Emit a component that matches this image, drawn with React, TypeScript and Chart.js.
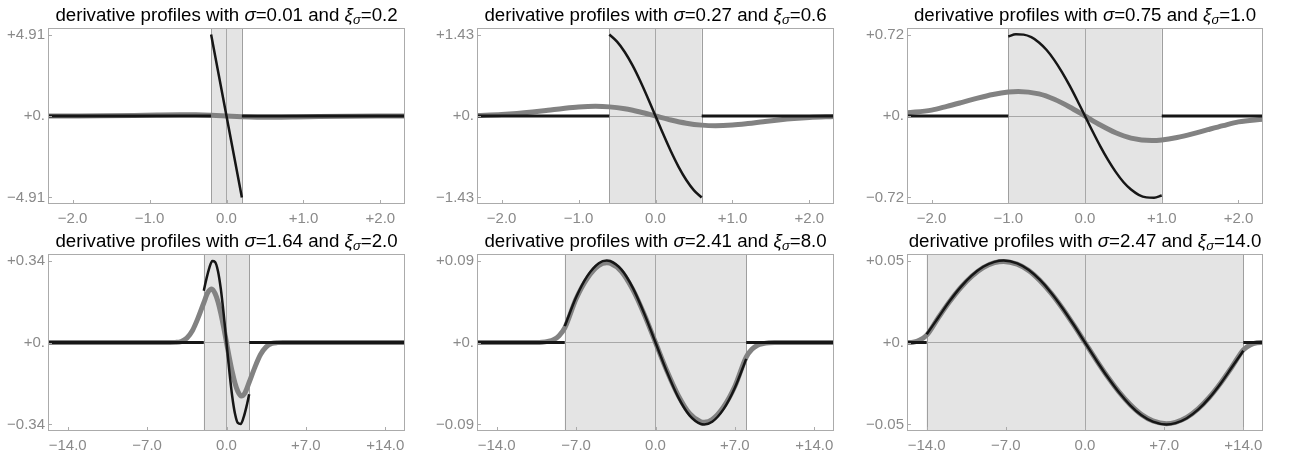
import React, { useEffect, useRef } from 'react';
import { Chart, registerables } from 'chart.js';

Chart.register(...registerables);

// ---------- labels / parameters ----------
const SIGMA_LABELS = ['0.01', '0.27', '0.75', '1.64', '2.41', '2.47'];
const XI_LABELS = ['0.2', '0.6', '1.0', '2.0', '8.0', '14.0'];
const XI_VALUES = [0.2, 0.6, 1.0, 2.0, 8.0, 14.0];
const Y_MAX = [4.91, 1.43, 0.72, 0.34, 0.09, 0.05];
const Y_TICK_LABELS = [
  ['\u22124.91', '+0.', '+4.91'],
  ['\u22121.43', '+0.', '+1.43'],
  ['\u22120.72', '+0.', '+0.72'],
  ['\u22120.34', '+0.', '+0.34'],
  ['\u22120.09', '+0.', '+0.09'],
  ['\u22120.05', '+0.', '+0.05'],
];
const X_HALF_RANGE = [2.32, 2.32, 2.32, 15.74, 15.74, 15.74];
const X_TICKS_TOP = [-2, -1, 0, 1, 2];
const X_TICK_LABELS_TOP = ['\u22122.0', '\u22121.0', '0.0', '+1.0', '+2.0'];
const X_TICKS_BOTTOM = [-14, -7, 0, 7, 14];
const X_TICK_LABELS_BOTTOM = ['\u221214.0', '\u22127.0', '0.0', '+7.0', '+14.0'];

// ---------- panel 1 ----------
const P1_IN_X = [-0.2, -0.1, 0, 0.1, 0.2];
const P1_IN_Y = [4.91, 2.455, 0, -2.455, -4.91];
const P1_OUT_X = [-2.32, -0.2, 0, 0.2, 2.32];
const P1_OUT_Y = [0, 0, null, 0, 0];
const P1_GRAY_X = [-2.32, -2.0, -1.6, -1.2, -0.9, -0.6, -0.4, -0.2, 0, 0.2, 0.4, 0.6, 0.9, 1.2, 1.6, 2.0, 2.32];
const P1_GRAY_Y = [0, 0.002, 0.01, 0.036, 0.064, 0.08, 0.07, 0.042, 0, -0.042, -0.07, -0.08, -0.064, -0.036, -0.01, -0.002, 0];

// ---------- panel 2 ----------
const P2_IN_X = [-0.6, -0.5, -0.4, -0.3, -0.2, -0.1, 0, 0.1, 0.2, 0.3, 0.4, 0.5, 0.6];
const P2_IN_Y = [1.43, 1.305, 1.124, 0.893, 0.62, 0.318, 0, -0.318, -0.62, -0.893, -1.124, -1.305, -1.43];
const P2_OUT_X = [-2.32, -0.6, 0, 0.6, 2.32];
const P2_OUT_Y = [0, 0, null, 0, 0];
const P2_GRAY_X = [-2.32, -2.0, -1.8, -1.6, -1.4, -1.2, -1.0, -0.78, -0.6, -0.4, -0.2, 0, 0.2, 0.4, 0.6, 0.78, 1.0, 1.2, 1.4, 1.6, 1.8, 2.0, 2.32];
const P2_GRAY_Y = [0.01, 0.027, 0.045, 0.07, 0.1, 0.132, 0.158, 0.17, 0.16, 0.126, 0.07, 0, -0.07, -0.126, -0.16, -0.17, -0.158, -0.132, -0.1, -0.07, -0.045, -0.027, -0.01];

// ---------- panel 3 ----------
const P3_IN_X = [-1, -0.9, -0.8, -0.7, -0.6, -0.5, -0.4, -0.3, -0.2, -0.1, 0, 0.1, 0.2, 0.3, 0.4, 0.5, 0.6, 0.7, 0.8, 0.9, 1];
const P3_IN_Y = [0.703, 0.722, 0.719, 0.696, 0.65, 0.583, 0.494, 0.388, 0.268, 0.137, 0, -0.137, -0.268, -0.388, -0.494, -0.583, -0.65, -0.696, -0.719, -0.722, -0.703];
const P3_OUT_X = [-2.32, -1.0, 0, 1.0, 2.32];
const P3_OUT_Y = [0, 0, null, 0, 0];
const P3_GRAY_X = [-2.32, -2.0, -1.8, -1.6, -1.4, -1.2, -1.0, -0.87, -0.6, -0.4, -0.2, 0, 0.2, 0.4, 0.6, 0.87, 1.0, 1.2, 1.4, 1.6, 1.8, 2.0, 2.32];
const P3_GRAY_Y = [0.028, 0.052, 0.085, 0.121, 0.158, 0.19, 0.212, 0.217, 0.195, 0.148, 0.08, 0, -0.08, -0.148, -0.195, -0.217, -0.212, -0.19, -0.158, -0.121, -0.085, -0.052, -0.028];

// ---------- panel 4 ----------
const P4_IN_X = [-2, -1.75, -1.5, -1.25, -1, -0.75, -0.5, -0.25, 0, 0.25, 0.5, 0.75, 1, 1.25, 1.5, 1.75, 2];
const P4_IN_Y = [0.215, 0.268, 0.312, 0.338, 0.334, 0.296, 0.222, 0.119, 0, -0.119, -0.222, -0.296, -0.334, -0.338, -0.312, -0.268, -0.215];
const P4_OUT_X = [-15.74, -2, 0, 2, 15.74];
const P4_OUT_Y = [0, 0, null, 0, 0];
const P4_GRAY_X = [-15.74, -5, -4.5, -4, -3.5, -3, -2.5, -2, -1.65, -1.3, -1, -0.75, -0.5, -0.25, 0, 0.25, 0.5, 0.75, 1, 1.3, 1.65, 2, 2.5, 3, 3.5, 4, 4.5, 5, 15.74];
const P4_GRAY_Y = [0, 0, 0.0005, 0.004, 0.018, 0.05, 0.103, 0.165, 0.207, 0.222, 0.203, 0.169, 0.121, 0.063, 0, -0.063, -0.121, -0.169, -0.203, -0.222, -0.207, -0.165, -0.103, -0.05, -0.018, -0.004, -0.0005, 0, 0];

// ---------- panel 5 ----------
const P5_IN_X = [-8, -7, -6, -5, -4.3, -4, -3, -2, -1, 0, 1, 2, 3, 4, 4.3, 5, 6, 7, 8];
const P5_IN_Y = [0.018, 0.0497, 0.0732, 0.0871, 0.09, 0.0895, 0.08, 0.06, 0.032, 0, -0.032, -0.06, -0.08, -0.0895, -0.09, -0.0871, -0.0732, -0.0497, -0.018];
const P5_OUT_X = [-15.74, -8, 0, 8, 15.74];
const P5_OUT_Y = [0, 0, null, 0, 0];
const P5_GRAY_X = [-15.74, -10.5, -10, -9.5, -9, -8.5, -8, -7, -6, -5, -4.3, -4, -3, -2, -1, 0, 1, 2, 3, 4, 4.3, 5, 6, 7, 8, 8.5, 9, 9.5, 10, 10.5, 15.74];
const P5_GRAY_Y = [0, 0, 0.0003, 0.0012, 0.003, 0.0075, 0.016, 0.048, 0.0707, 0.0845, 0.0875, 0.087, 0.0778, 0.058, 0.031, 0, -0.031, -0.058, -0.0778, -0.087, -0.0875, -0.0845, -0.0707, -0.048, -0.016, -0.0075, -0.003, -0.0012, -0.0003, 0, 0];

// ---------- panel 6 ----------
const P6_IN_X = [-14, -13, -12, -11, -10, -9, -8, -7.2, -6, -5, -4, -3, -2, -1, 0, 1, 2, 3, 4, 5, 6, 7.2, 8, 9, 10, 11, 12, 13, 14];
const P6_IN_Y = [0.005, 0.015, 0.025, 0.0338, 0.041, 0.0462, 0.0492, 0.05, 0.0483, 0.0444, 0.0383, 0.0304, 0.0211, 0.0108, 0, -0.0108, -0.0211, -0.0304, -0.0383, -0.0444, -0.0483, -0.05, -0.0492, -0.0462, -0.041, -0.0338, -0.025, -0.015, -0.005];
const P6_OUT_X = [-15.74, -14, 0, 14, 15.74];
const P6_OUT_Y = [0, 0, null, 0, 0];
const P6_GRAY_X = [-15.74, -15.2, -14.6, -14, -13, -12, -11, -10, -9, -8, -7.2, -6, -5, -4, -3, -2, -1, 0, 1, 2, 3, 4, 5, 6, 7.2, 8, 9, 10, 11, 12, 13, 14, 14.6, 15.2, 15.74];
const P6_GRAY_Y = [0, 0.0002, 0.0015, 0.0045, 0.0148, 0.0247, 0.0334, 0.0405, 0.0457, 0.0487, 0.0495, 0.0478, 0.044, 0.0379, 0.0301, 0.0209, 0.0107, 0, -0.0107, -0.0209, -0.0301, -0.0379, -0.044, -0.0478, -0.0495, -0.0487, -0.0457, -0.0405, -0.0334, -0.0247, -0.0148, -0.0045, -0.0015, -0.0002, 0];

const PANELS = [
  { inX: P1_IN_X, inY: P1_IN_Y, outX: P1_OUT_X, outY: P1_OUT_Y, grayX: P1_GRAY_X, grayY: P1_GRAY_Y },
  { inX: P2_IN_X, inY: P2_IN_Y, outX: P2_OUT_X, outY: P2_OUT_Y, grayX: P2_GRAY_X, grayY: P2_GRAY_Y },
  { inX: P3_IN_X, inY: P3_IN_Y, outX: P3_OUT_X, outY: P3_OUT_Y, grayX: P3_GRAY_X, grayY: P3_GRAY_Y },
  { inX: P4_IN_X, inY: P4_IN_Y, outX: P4_OUT_X, outY: P4_OUT_Y, grayX: P4_GRAY_X, grayY: P4_GRAY_Y },
  { inX: P5_IN_X, inY: P5_IN_Y, outX: P5_OUT_X, outY: P5_OUT_Y, grayX: P5_GRAY_X, grayY: P5_GRAY_Y },
  { inX: P6_IN_X, inY: P6_IN_Y, outX: P6_OUT_X, outY: P6_OUT_Y, grayX: P6_GRAY_X, grayY: P6_GRAY_Y },
];

// ---------- layout / style ----------
const FONT = '"Liberation Sans", Arial, Helvetica, sans-serif';
const FRAME_LEFT = [48, 477, 907];
const FRAME_W = [357, 357, 356];
const ROW_TOP = [0, 226];
const ROW_H = [226, 229];
const AXIS_H = [22, 24];
const PAD_TOP = 28;
const Y_AXIS_W = 48;
const RIGHT_PAD = 20;

const TICK_COLOR = '#8a8a8a';
const FRAME_COLOR = '#ababab';
const ZERO_COLOR = '#a8a8a8';
const BAND_FILL = '#e4e4e4';
const BAND_EDGE = '#9f9f9f';
const BLACK = '#161616';
const GRAY = '#828282';

const toXY = (xs: number[], ys: (number | null)[]) => xs.map((x, k) => ({ x, y: ys[k] }));

function buildChart(canvas: HTMLCanvasElement, i: number) {
  const row = Math.floor(i / 3);
  const xi = XI_VALUES[i];
  const ymax = Y_MAX[i];
  const yr = ymax * 1.08;
  const xr = X_HALF_RANGE[i];
  const xt = row === 0 ? X_TICKS_TOP : X_TICKS_BOTTOM;
  const xtl = row === 0 ? X_TICK_LABELS_TOP : X_TICK_LABELS_BOTTOM;
  const yt = [-ymax, 0, ymax];
  const ytl = Y_TICK_LABELS[i];
  const p = PANELS[i];
  const col = i % 3;
  const canvasW = Y_AXIS_W + FRAME_W[col] + RIGHT_PAD;

  const deco = {
    id: 'deco',
    beforeDraw(chart: any) {
      const { ctx, chartArea: a, scales } = chart;
      const x = scales.x;
      const l = Math.max(x.getPixelForValue(-xi), a.left);
      const r = Math.min(x.getPixelForValue(xi), a.right);
      ctx.save();
      ctx.fillStyle = BAND_FILL;
      ctx.fillRect(l, a.top, r - l, a.bottom - a.top);
      ctx.strokeStyle = BAND_EDGE;
      ctx.lineWidth = 1;
      [-xi, xi].forEach((v) => {
        const px = Math.round(x.getPixelForValue(v)) + 0.5;
        if (px > a.left && px < a.right) {
          ctx.beginPath();
          ctx.moveTo(px, a.top);
          ctx.lineTo(px, a.bottom);
          ctx.stroke();
        }
      });
      ctx.restore();
    },
    afterDraw(chart: any) {
      const { ctx, chartArea: a, scales } = chart;
      ctx.save();
      // frame
      ctx.strokeStyle = FRAME_COLOR;
      ctx.lineWidth = 1;
      ctx.strokeRect(Math.round(a.left) + 0.5, Math.round(a.top) + 0.5, Math.round(a.right - a.left) - 1, Math.round(a.bottom - a.top) - 1);
      // inward ticks
      ctx.beginPath();
      xt.forEach((v) => {
        const px = Math.round(scales.x.getPixelForValue(v)) + 0.5;
        ctx.moveTo(px, a.bottom);
        ctx.lineTo(px, a.bottom - 4);
      });
      yt.forEach((v) => {
        const py = Math.round(scales.y.getPixelForValue(v)) + 0.5;
        ctx.moveTo(a.left, py);
        ctx.lineTo(a.left + 4, py);
      });
      ctx.stroke();
      // title with italic sigma / xi and subscript
      const size = 18.7;
      const sub = 13;
      const segs = [
        { t: 'derivative profiles with ', f: `${size}px ${FONT}`, dy: 0 },
        { t: '\u03C3', f: `italic ${size}px ${FONT}`, dy: 0 },
        { t: '=' + SIGMA_LABELS[i] + ' and ', f: `${size}px ${FONT}`, dy: 0 },
        { t: '\u03BE', f: `italic ${size}px ${FONT}`, dy: 0 },
        { t: '\u03C3', f: `italic ${sub}px ${FONT}`, dy: 2.5 },
        { t: '=' + XI_LABELS[i], f: `${size}px ${FONT}`, dy: 0 },
      ];
      let total = 0;
      const widths = segs.map((s) => {
        ctx.font = s.f;
        const w = ctx.measureText(s.t).width;
        total += w;
        return w;
      });
      let cx = (a.left + a.right) / 2 - total / 2;
      const base = a.top - 7;
      ctx.fillStyle = '#000';
      ctx.textBaseline = 'alphabetic';
      ctx.textAlign = 'left';
      segs.forEach((s, k) => {
        ctx.font = s.f;
        ctx.fillText(s.t, cx, base + s.dy);
        cx += widths[k];
      });
      ctx.restore();
    },
  };

  return new Chart(canvas, {
    type: 'line',
    data: {
      datasets: [
        {
          data: toXY(p.inX, p.inY),
          borderColor: BLACK,
          borderWidth: 2.5,
          pointRadius: 0,
          cubicInterpolationMode: 'monotone',
          clip: 0,
        },
        {
          data: toXY(p.outX, p.outY),
          borderColor: BLACK,
          borderWidth: 3,
          pointRadius: 0,
          tension: 0,
          spanGaps: false,
          clip: 0,
        },
        {
          data: toXY(p.grayX, p.grayY),
          borderColor: GRAY,
          borderWidth: 5,
          pointRadius: 0,
          cubicInterpolationMode: 'monotone',
          clip: 0,
        },
      ] as any,
    },
    options: {
      animation: false,
      responsive: false,
      devicePixelRatio: 1,
      events: [],
      layout: { padding: { top: PAD_TOP, right: canvasW - Y_AXIS_W - FRAME_W[col], left: 0, bottom: 0 } },
      plugins: { legend: { display: false }, tooltip: { enabled: false }, title: { display: false } },
      scales: {
        x: {
          type: 'linear',
          min: -xr,
          max: xr,
          afterBuildTicks: (s: any) => {
            s.ticks = xt.map((v) => ({ value: v }));
          },
          afterFit: (s: any) => {
            s.height = AXIS_H[row];
          },
          ticks: {
            autoSkip: false,
            maxRotation: 0,
            padding: 6,
            color: TICK_COLOR,
            font: { family: FONT, size: 15 },
            callback: (v: any) => xtl[xt.indexOf(v)] ?? '',
          },
          grid: {
            drawTicks: false,
            lineWidth: 1,
            color: (c: any) => (c.tick && c.tick.value === 0 ? ZERO_COLOR : 'rgba(0,0,0,0)'),
          },
          border: { display: false },
        },
        y: {
          type: 'linear',
          min: -yr,
          max: yr,
          afterBuildTicks: (s: any) => {
            s.ticks = yt.map((v) => ({ value: v }));
          },
          afterFit: (s: any) => {
            s.width = Y_AXIS_W;
          },
          ticks: {
            autoSkip: false,
            padding: 3,
            color: TICK_COLOR,
            font: { family: FONT, size: 15 },
            callback: (v: any) => ytl[yt.indexOf(v)] ?? '',
          },
          grid: {
            drawTicks: false,
            lineWidth: 1,
            color: (c: any) => (c.tick && c.tick.value === 0 ? ZERO_COLOR : 'rgba(0,0,0,0)'),
          },
          border: { display: false },
        },
      },
    } as any,
    plugins: [deco],
  });
}

export default function App() {
  const refs = useRef<(HTMLCanvasElement | null)[]>([]);
  useEffect(() => {
    const charts = refs.current.map((c, i) => (c ? buildChart(c, i) : null));
    return () => charts.forEach((ch) => ch && ch.destroy());
  }, []);
  return (
    <div style={{ position: 'absolute', left: 0, top: 0, width: 1290, height: 455, background: '#fff', overflow: 'hidden' }}>
      {[0, 1, 2, 3, 4, 5].map((i) => {
        const row = Math.floor(i / 3);
        const col = i % 3;
        const w = Y_AXIS_W + FRAME_W[col] + RIGHT_PAD;
        const h = ROW_H[row];
        return (
          <canvas
            key={i}
            ref={(el) => {
              refs.current[i] = el;
            }}
            width={w}
            height={h}
            style={{ position: 'absolute', left: FRAME_LEFT[col] - Y_AXIS_W, top: ROW_TOP[row], width: w, height: h }}
          />
        );
      })}
    </div>
  );
}
